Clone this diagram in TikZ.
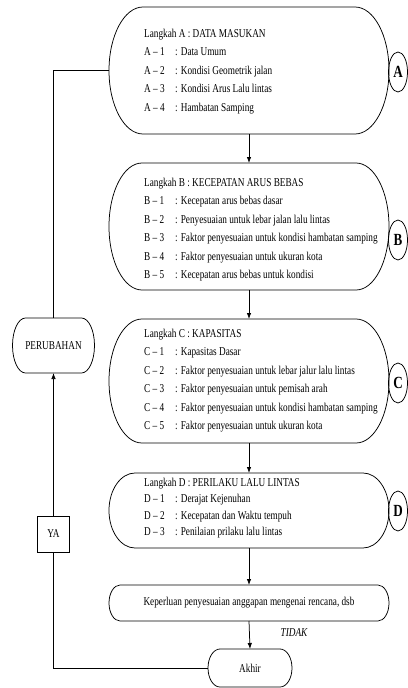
\documentclass[tikz,border=0pt]{standalone}
\usepackage{fontspec}
\setmainfont[FakeStretch=0.77]{Liberation Serif}
\usetikzlibrary{arrows.meta,shapes.geometric,calc}
\newcommand\drawstadium[3]{%
  \draw[boxline] ([xshift=#2]#1.north west) -- ([xshift=-#2]#1.north east)
    arc[start angle=90,end angle=-90,x radius=#2,y radius=#3]
    -- ([xshift=#2]#1.south west)
    arc[start angle=270,end angle=90,x radius=#2,y radius=#3] -- cycle;}
\begin{document}
\begin{tikzpicture}[x=1pt,y=-1pt,
  boxline/.style={draw=black,line width=0.75pt},
  frame/.style={draw=none,inner sep=0pt,outer sep=0pt,font=\fontsize{12}{14}\selectfont},
  txt/.style={inner sep=0pt,anchor=base west,font=\fontsize{12}{14}\selectfont},
  flow/.style={line width=0.75pt,-{Latex[length=6pt,width=4.5pt]}},
  tag/.style={ellipse,draw,line width=0.75pt,minimum width=19pt,minimum height=40pt,inner sep=0pt,font=\fontsize{17}{17}\selectfont\bfseries},
  ]
\useasboundingbox (0,0) rectangle (407,688);

% main boxes
\node[frame,minimum width=280pt,minimum height=127pt] (A) at (249,70.5) {};
\node[frame,minimum width=280pt,minimum height=127pt] (B) at (249,226.5) {};
\node[frame,minimum width=280pt,minimum height=124pt] (C) at (249,381) {};
\node[frame,minimum width=280pt,minimum height=75pt] (D) at (249,510.5) {};
\node[frame,minimum width=280pt,minimum height=36pt] (K) at (249,603) {Keperluan penyesuaian anggapan mengenai rencana, dsb};
\node[frame,minimum width=84pt,minimum height=38pt] (Akhir) at (250,668) {Akhir};
\node[frame,minimum width=82pt,minimum height=55pt] (PER) at (53.5,345.5) {PERUBAHAN};
\node[frame,draw,line width=0.75pt,minimum width=32pt,minimum height=36pt] (YA) at (53.5,534) {YA};
\node[inner sep=0pt,font=\fontsize{12}{14}\selectfont\itshape] (tidak) at (294,633) {TIDAK};

\drawstadium{A}{34pt}{63.5pt}
\drawstadium{B}{33pt}{63.5pt}
\drawstadium{C}{33pt}{62pt}
\drawstadium{D}{26pt}{37.5pt}
\drawstadium{K}{11pt}{18pt}
\drawstadium{Akhir}{12pt}{19pt}
\drawstadium{PER}{13pt}{27.5pt}

% tags
\node[tag] (tA) at (398,72) {A};
\node[tag] (tB) at (398,240) {B};
\node[tag] (tC) at (398,383) {C};
\node[tag] (tD) at (398,511) {D};

% text A
\node[txt] (Ah) at (144,37) {Langkah A : DATA MASUKAN};
\foreach \l/\t [count=\i] in {A – 1/Data Umum, A – 2/Kondisi Geometrik jalan, A – 3/Kondisi Arus Lalu lintas, A – 4/Hambatan Samping}
  \node[txt] (A\i) at (144,{37+18.5*\i}) {\makebox[31pt][l]{\l}: \t};
% text B
\node[txt] (Bh) at (144,186) {Langkah B : KECEPATAN ARUS BEBAS};
\foreach \l/\t [count=\i] in {B – 1/Kecepatan arus bebas dasar, B – 2/Penyesuaian untuk lebar jalan lalu lintas, B – 3/Faktor penyesuaian untuk kondisi hambatan samping, B – 4/Faktor penyesuaian untuk ukuran kota, B – 5/Kecepatan arus bebas untuk kondisi}
  \node[txt] (B\i) at (144,{186+18.5*\i}) {\makebox[31pt][l]{\l}: \t};
% text C
\node[txt] (Ch) at (144,337) {Langkah C : KAPASITAS};
\foreach \l/\t [count=\i] in {C – 1/Kapasitas Dasar, C – 2/Faktor penyesuaian untuk lebar jalur lalu lintas, C – 3/Faktor penyesuaian untuk pemisah arah, C – 4/Faktor penyesuaian untuk kondisi hambatan samping, C – 5/Faktor penyesuaian untuk ukuran kota}
  \node[txt] (C\i) at (144,{337+18.5*\i}) {\makebox[31pt][l]{\l}: \t};
% text D
\node[txt] (Dh) at (144,486) {Langkah D : PERILAKU LALU LINTAS};
\foreach \l/\t [count=\i] in {D – 1/Derajat Kejenuhan, D – 2/Kecepatan dan Waktu tempuh, D – 3/Penilaian prilaku lalu lintas}
  \node[txt] (D\i) at (144,{486+16.5*\i}) {\makebox[31pt][l]{\l}: \t};

% connectors
\draw[flow] (A.south) -- (B.north);
\draw[flow] (B.south) -- (C.north);
\draw[flow] (C.south) -- (D.north);
\draw[flow] (D.south) -- (K.north);
\draw[flow] (K.south) -- (Akhir.north);
\draw[boxline] (Akhir.west) -| (YA.south);
\draw[flow] (YA.north) -- (PER.south);
\draw[boxline] (PER.north) |- (A.west);
\end{tikzpicture}
\end{document}
